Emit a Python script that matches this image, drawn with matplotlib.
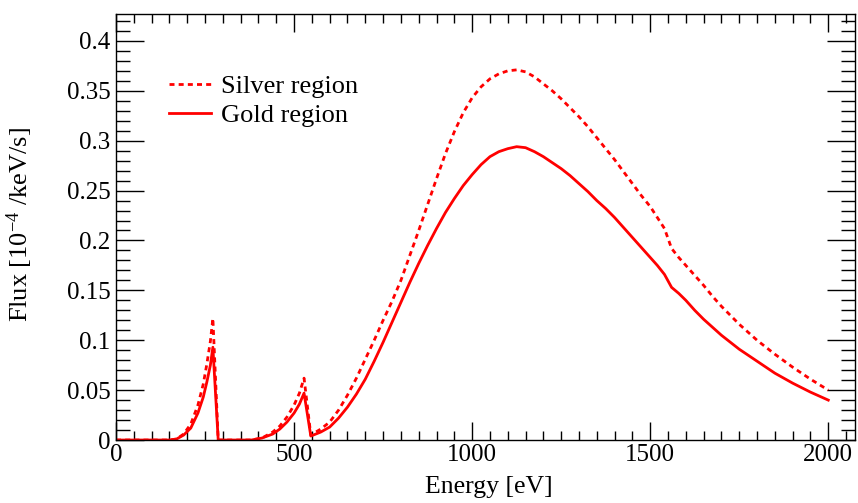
import matplotlib
matplotlib.use('Agg')
import matplotlib.pyplot as plt
from matplotlib.ticker import MultipleLocator, FuncFormatter

# ── Global style (ROOT-like) ────────────────────────────────
plt.rcParams.update({
    'font.family': 'Liberation Serif',
    'font.size': 18,
    'mathtext.fontset': 'custom',
    'mathtext.rm': 'Liberation Serif',
    'mathtext.it': 'Liberation Serif:italic',
    'axes.linewidth': 1.0,
})

# ── Data ────────────────────────────────────────────────────
energy = [0, 150, 170, 190, 210, 230, 245, 255, 265, 272, 287,
          380, 410, 440, 460, 480, 500, 515, 528, 547,
          575, 600, 625, 650, 675, 700, 725, 750, 775, 800, 825, 850, 875,
          900, 925, 950, 975, 1000, 1025, 1050, 1075, 1100, 1125, 1150,
          1175, 1200, 1225, 1250, 1275, 1300, 1325, 1350, 1375, 1400, 1425,
          1450, 1475, 1500, 1520, 1540, 1560, 1580, 1600, 1625, 1650, 1675,
          1700, 1750, 1800, 1850, 1900, 1950, 2000]

gold = [0, 0, 0.001, 0.005, 0.012, 0.027, 0.043, 0.058, 0.075, 0.093, 0.0,
        0.0, 0.002, 0.006, 0.011, 0.018, 0.027, 0.036, 0.047, 0.004,
        0.008, 0.013, 0.022, 0.033, 0.046, 0.061, 0.079, 0.098, 0.118, 0.138,
        0.158, 0.177, 0.195, 0.212, 0.228, 0.242, 0.255, 0.266, 0.276, 0.284,
        0.289, 0.292, 0.294, 0.293, 0.289, 0.284, 0.278, 0.272, 0.265, 0.257,
        0.249, 0.240, 0.232, 0.223, 0.213, 0.203, 0.193, 0.183, 0.175, 0.166,
        0.153, 0.147, 0.140, 0.130, 0.121, 0.113, 0.105, 0.091, 0.079, 0.067,
        0.057, 0.048, 0.040]

silver = [0, 0, 0.001, 0.006, 0.016, 0.035, 0.056, 0.076, 0.099, 0.122, 0.0,
          0.0, 0.002, 0.008, 0.014, 0.023, 0.035, 0.047, 0.062, 0.005,
          0.011, 0.018, 0.030, 0.045, 0.062, 0.081, 0.100, 0.120, 0.139, 0.160,
          0.185, 0.210, 0.236, 0.262, 0.287, 0.309, 0.328, 0.343, 0.354, 0.362,
          0.367, 0.370, 0.371, 0.369, 0.364, 0.357, 0.350, 0.342, 0.333, 0.324,
          0.314, 0.303, 0.292, 0.281, 0.269, 0.257, 0.245, 0.234, 0.223, 0.212,
          0.192, 0.183, 0.175, 0.165, 0.155, 0.144, 0.134, 0.116, 0.100, 0.086,
          0.073, 0.061, 0.050]

x_ticks = [0, 500, 1000, 1500, 2000]

fig = plt.figure(figsize=(8.58, 5.03), dpi=100)
ax = fig.add_axes([0.1352, 0.1252, 0.8613, 0.847])

ax.plot(energy, silver, color='#ff0000', linewidth=2.0, dashes=(1.8, 1.5),
        label='Silver region')
ax.plot(energy, gold, color='#ff0000', linewidth=2.0, label='Gold region')

ax.set_xlim(0, 2075)
ax.set_ylim(0, 0.427)

ax.set_xticks(x_ticks)
ax.xaxis.set_minor_locator(MultipleLocator(50))
ax.yaxis.set_major_locator(MultipleLocator(0.05))
ax.yaxis.set_minor_locator(MultipleLocator(0.01))
ax.yaxis.set_major_formatter(FuncFormatter(lambda v, p: f'{v:g}'))

ax.tick_params(axis='both', which='both', direction='in',
               top=True, right=True, width=1.0, labelsize=18)
ax.tick_params(axis='x', which='major', length=13, pad=3)
ax.tick_params(axis='x', which='minor', length=6.5)
ax.tick_params(axis='y', which='major', length=20, pad=4)
ax.tick_params(axis='y', which='minor', length=10)

ax.set_xlabel('Energy [eV]', fontsize=18.5)
ax.set_ylabel(r'Flux [10$^{\mathrm{-4}}$ /keV/s]', fontsize=19)
ax.xaxis.set_label_coords(0.505, -0.085)
ax.yaxis.set_label_coords(-0.11, 0.505)

ax.legend(loc='upper left', bbox_to_anchor=(0.072, 0.857), frameon=False,
          handlelength=1.6, handletextpad=0.35, labelspacing=0.2,
          borderpad=0, borderaxespad=0, fontsize=19)

fig.savefig('out.png', dpi=100, facecolor='white')
